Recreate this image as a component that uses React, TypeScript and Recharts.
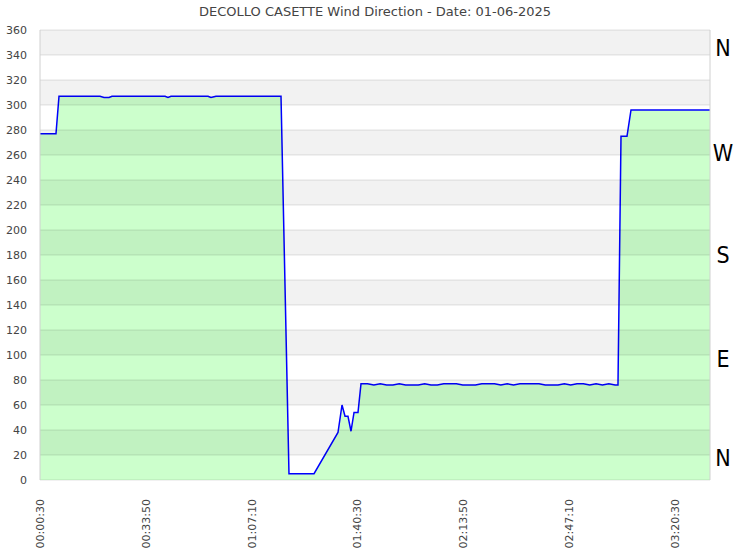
import React from 'react';
import {
  AreaChart,
  Area,
  XAxis,
  YAxis,
  ReferenceArea,
  ReferenceLine
} from 'recharts';

// time of day in seconds, wind direction in degrees
const seconds = [
  30, 332, 389, 1164, 1240, 1334, 1391, 2393, 2449, 2506, 3205, 3262, 3356, 4585,
  4736, 5209, 5662, 5738, 5795, 5851, 5908, 5965, 6040, 6097,
  6220, 6340, 6460, 6580, 6700, 6820, 6940, 7060, 7180, 7300, 7420, 7540, 7660,
  7780, 7900, 8020, 8140, 8260, 8380, 8500, 8620, 8740, 8860, 8980, 9100, 9220,
  9340, 9460, 9580, 9700, 9820, 9940, 10060, 10180, 10300, 10420, 10540, 10660,
  10780, 10900, 10954, 11011, 11124, 11200, 12693
];
const direction = [
  277, 277, 307, 307, 306, 306, 307, 307, 306, 307, 307, 306, 307, 307,
  5, 5, 38, 60, 51, 51, 39, 54, 54, 77,
  77, 76, 77, 76, 76, 77, 76, 76, 76, 77, 76, 76, 77,
  77, 77, 76, 76, 76, 77, 77, 77, 76, 77, 76, 77, 77,
  77, 77, 76, 76, 76, 77, 76, 77, 77, 76, 77, 76,
  77, 76, 76, 275, 275, 296, 296
];

const timeTicks = [30, 2030, 4030, 6030, 8030, 10030, 12030];
const degreeTicks = [0, 20, 40, 60, 80, 100, 120, 140, 160, 180, 200, 220, 240, 260, 280, 300, 320, 340, 360];
const compassTicks = [18, 97, 180, 262, 346];
const compassLabels = ['N', 'E', 'S', 'W', 'N'];
const shadedBands = [[20, 40], [60, 80], [100, 120], [140, 160], [180, 200], [220, 240], [260, 280], [300, 320], [340, 360]];

const data = seconds.map((s, i) => ({ t: s, dir: direction[i] }));

const pad = (n: number) => String(n).padStart(2, '0');
const formatTime = (s: number) =>
  `${pad(Math.floor(s / 3600))}:${pad(Math.floor((s % 3600) / 60))}:${pad(s % 60)}`;

const FONT = '"DejaVu Sans", sans-serif';

const TimeTick = (props: any) => {
  const { x, y, payload } = props;
  return (
    <text
      x={0}
      y={0}
      transform={`translate(${x + 4},${y + 11}) rotate(-90)`}
      textAnchor="end"
      fontSize={11}
      fontFamily={FONT}
      fill="#444"
    >
      {formatTime(payload.value)}
    </text>
  );
};

const CompassTick = (props: any) => {
  const { y, payload } = props;
  const idx = compassTicks.indexOf(payload.value);
  return (
    <text
      x={723}
      y={y}
      dy={8}
      textAnchor="middle"
      fontSize={23}
      fontFamily='"DejaVu Sans Condensed", "Liberation Sans Narrow", "DejaVu Sans", sans-serif'
      fill="#000"
    >
      {compassLabels[idx]}
    </text>
  );
};

export default function App() {
  return (
    <div style={{ position: 'absolute', left: 0, top: 0, width: 750, height: 550, background: '#fff' }}>
      <div
        style={{
          position: 'absolute',
          top: 4,
          left: 0,
          width: 750,
          textAlign: 'center',
          fontFamily: FONT,
          fontSize: 13,
          color: '#444'
        }}
      >
        DECOLLO CASETTE Wind Direction - Date: 01-06-2025
      </div>
      <AreaChart width={750} height={550} data={data} margin={{ top: 30, right: 0, bottom: 0, left: 0 }}>
        <XAxis
          dataKey="t"
          type="number"
          domain={[30, 12693]}
          ticks={timeTicks}
          tick={<TimeTick />}
          tickLine={false}
          axisLine={false}
          height={70}
          interval={0}
        />
        <YAxis
          yAxisId="deg"
          domain={[0, 360]}
          ticks={degreeTicks}
          interval={0}
          width={40}
          tickLine={false}
          axisLine={false}
          tick={{ fontSize: 11, fontFamily: FONT, fill: '#444' }}
          tickMargin={7}
        />
        <YAxis
          yAxisId="compass"
          orientation="right"
          type="number"
          domain={[0, 360]}
          allowDataOverflow
          ticks={compassTicks}
          interval={0}
          width={40}
          tickLine={false}
          axisLine={false}
          tick={<CompassTick />}
        />
        <Area
          yAxisId="compass"
          type="linear"
          dataKey="dir"
          stroke="none"
          fill="none"
          isAnimationActive={false}
          dot={false}
          activeDot={false}
        />
        <Area
          yAxisId="deg"
          type="linear"
          dataKey="dir"
          stroke="#0000ff"
          strokeWidth={1.5}
          fill="#ccffcc"
          fillOpacity={1}
          isAnimationActive={false}
          dot={false}
          activeDot={false}
        />
        {shadedBands.map(([a, b], i) => (
          <ReferenceArea key={`band-${i}`} yAxisId="deg" y1={a} y2={b} fill="#000" fillOpacity={0.05} stroke="none" />
        ))}
        {degreeTicks.map((v) => (
          <ReferenceLine key={`grid-${v}`} yAxisId="deg" y={v} stroke="#000" strokeOpacity={0.11} />
        ))}
        <ReferenceLine yAxisId="deg" x={30} stroke="#d0d0d0" />
        <ReferenceLine yAxisId="deg" x={12693} stroke="#d0d0d0" />
      </AreaChart>
    </div>
  );
}
